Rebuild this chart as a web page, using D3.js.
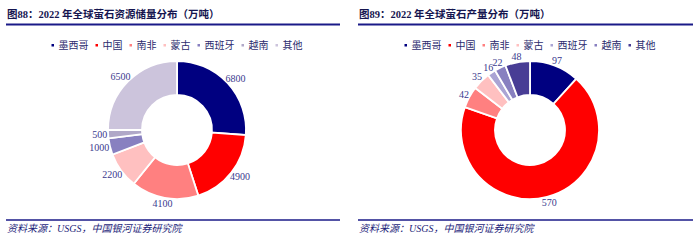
<!DOCTYPE html>
<meta charset="utf-8">
<script src="https://d3js.org/d3.v7.min.js"></script>
<style>
  body { margin: 0; background: #fff; }
  text { font-family: "Liberation Serif", "Noto Sans CJK SC", serif; }
</style>
<svg id="chart"></svg>
<script>
// categories shared by both charts
var countries = ["墨西哥", "中国", "南非", "蒙古", "西班牙", "越南", "其他"];

// fig 88: reserves (10k t)
var reserves = [6800, 4900, 4100, 2200, 1000, 500, 6500];
var reserveColors = ["#000080", "#ff0000", "#ff8080", "#ffc0c0", "#8880c0", "#b0a8c8", "#ccc4dc"];

// fig 89: production (10k t)
var production = [97, 570, 42, 35, 16, 22, 48];
var productionColors = ["#000080", "#ff0000", "#ff8080", "#ffc0c0", "#aaa4d4", "#8880c0", "#483d95"];

var titles = ["图88：2022 年全球萤石资源储量分布（万吨）", "图89：2022 年全球萤石产量分布（万吨）"];
var source = "资料来源：USGS，中国银河证券研究院";

var width = 699, height = 246;
var svg = d3.select("#chart").attr("width", width).attr("height", height);

var panels = [
  { x0: 6, x1: 340, cx: 177, values: reserves, colors: reserveColors },
  { x0: 358, x1: 693, cx: 530, values: production, colors: productionColors }
];

var rOuter = 69, rInner = 35, cy = 130;

panels.forEach(function (p, i) {
  var g = svg.append("g");

  // title + rule
  g.append("text")
    .attr("x", p.x0 + 1).attr("y", 18)
    .attr("font-size", 10.5).attr("font-weight", "bold")
    .attr("fill", "#15154f")
    .text(titles[i]);
  g.append("line")
    .attr("x1", p.x0).attr("x2", p.x1).attr("y1", 24.5).attr("y2", 24.5)
    .attr("stroke", "#1a1a88").attr("stroke-width", 2);

  // legend, centred over the donut
  var leg = g.append("g");
  var lx = 0;
  countries.forEach(function (c, j) {
    var item = leg.append("g").attr("transform", "translate(" + lx + ",0)");
    item.append("rect").attr("x", 0).attr("y", 44).attr("width", 2.5).attr("height", 2.5)
      .attr("fill", p.colors[j]);
    var t = item.append("text").attr("x", 7).attr("y", 49)
      .attr("font-size", 10).attr("fill", "#2c2c6e").text(c);
    lx += 7 + t.node().getComputedTextLength() + 7;
  });
  lx -= 7;
  leg.attr("transform", "translate(" + (p.cx - lx / 2) + ",0)");

  // donut
  var pie = d3.pie().sort(null).value(function (d) { return d; });
  var arc = d3.arc().innerRadius(rInner).outerRadius(rOuter);
  var arcs = pie(p.values);
  var dg = g.append("g").attr("transform", "translate(" + p.cx + "," + cy + ")");
  dg.selectAll("path")
    .data(arcs)
    .enter()
    .append("path")
    .attr("d", arc)
    .attr("fill", function (d, j) { return p.colors[j]; })
    .attr("stroke", "#fff")
    .attr("stroke-width", 1.8);

  // labels outside the ring
  dg.selectAll("text.lbl")
    .data(arcs)
    .enter()
    .append("text")
    .attr("class", "lbl")
    .attr("font-size", 10)
    .attr("fill", "#3a3a8e")
    .attr("text-anchor", "middle")
    .text(function (d) { return d.data; })
    .each(function (d) {
      var a = (d.startAngle + d.endAngle) / 2;
      var w = this.getComputedTextLength();
      var ex = Math.sin(a) * rOuter, ey = -Math.cos(a) * rOuter;
      var tx = ex + Math.sin(a) * (w / 2 + 1);
      var ty = ey - Math.cos(a) * 6;
      d3.select(this).attr("x", tx).attr("y", ty + 3.5);
    });

  // bottom rule + source
  g.append("line")
    .attr("x1", p.x0).attr("x2", p.x1).attr("y1", 220).attr("y2", 220)
    .attr("stroke", "#1a1a88").attr("stroke-width", 1.5);
  g.append("text")
    .attr("x", p.x0 + 1).attr("y", 232)
    .attr("font-size", 10).attr("font-style", "italic")
    .attr("fill", "#1e1e7a")
    .text(source);
});
</script>
